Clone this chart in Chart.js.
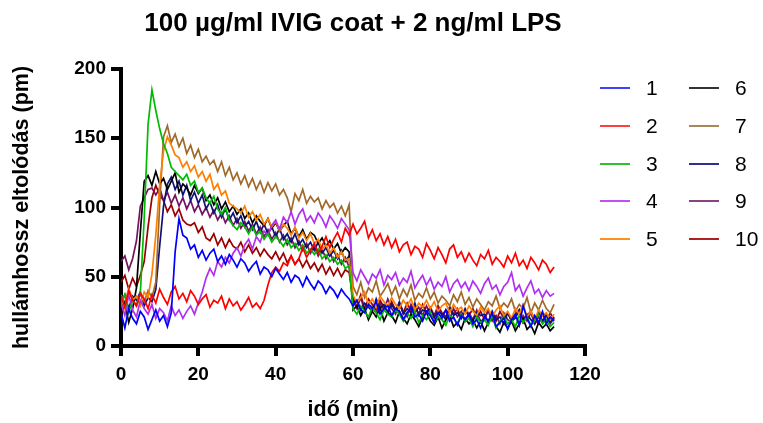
<!DOCTYPE html>
<html>
<head>
<meta charset="utf-8">
<script src="https://cdn.jsdelivr.net/npm/chart.js@4.4.0/dist/chart.umd.min.js"></script>
<style>
  html, body { margin: 0; padding: 0; background: #fff; }
  #chart { display: block; }
</style>
</head>
<body>
<canvas id="chart" width="763" height="423"></canvas>
<script>
// time axis (min), one reading per minute
const times = [
  0, 1, 2, 3, 4, 5, 6, 7, 8, 9, 10, 11, 12, 13, 14, 15, 16, 17, 18, 19,
  20, 21, 22, 23, 24, 25, 26, 27, 28, 29, 30, 31, 32, 33, 34, 35, 36, 37, 38, 39,
  40, 41, 42, 43, 44, 45, 46, 47, 48, 49, 50, 51, 52, 53, 54, 55, 56, 57, 58, 59,
  60, 61, 62, 63, 64, 65, 66, 67, 68, 69, 70, 71, 72, 73, 74, 75, 76, 77, 78, 79,
  80, 81, 82, 83, 84, 85, 86, 87, 88, 89, 90, 91, 92, 93, 94, 95, 96, 97, 98, 99,
  100, 101, 102, 103, 104, 105, 106, 107, 108, 109, 110, 111, 112
];

const seriesLabels = ['1', '2', '3', '4', '5', '6', '7', '8', '9', '10'];
const lineColors = ['#0000ff', '#ff0000', '#00bb00', '#b030f0', '#ff8000',
                    '#000000', '#a0692a', '#10107a', '#74145f', '#9a0000'];
const legendColors = ['#4040ff', '#ff4040', '#30c030', '#c050f0', '#ff9020',
                      '#333333', '#a8885a', '#303090', '#884480', '#b02020'];

const yTicks = [0, 50, 100, 150, 200];
const xTicks = [0, 20, 40, 60, 80, 100, 120];

// wavelength shift (pm)
const s1 = [
  24, 13, 27, 20, 16, 25, 21, 12, 19, 26,
  18, 22, 14, 24, 68, 92, 80, 78, 70, 73,
  64, 69, 62, 67, 70, 61, 65, 59, 66, 62,
  57, 63, 60, 54, 58, 61, 52, 57, 55, 50,
  56, 52, 48, 53, 46, 51, 49, 43, 50, 45,
  41, 47, 44, 38, 43, 40, 35, 41, 37, 34,
  29, 33, 26, 24, 30, 27, 32, 23, 27, 29,
  22, 27, 25, 19, 24, 28, 21, 23, 18, 25,
  22, 17, 24, 20, 26, 18, 21, 15, 22, 19,
  23, 16, 19, 13, 21, 18, 24, 14, 17, 20,
  12, 19, 23, 15, 29, 20, 14, 22, 17, 25,
  16, 21, 18
];
const s2 = [
  36, 28, 40, 33, 29, 38, 34, 27, 37, 31,
  41, 35, 30, 39, 43, 34, 38, 32, 40, 36,
  30, 34, 37, 28, 33, 31, 36, 27, 34, 29,
  32, 26, 30, 35, 28, 31, 27, 33, 44, 53,
  57, 54, 60, 58, 65, 59, 63, 71, 64, 69,
  74, 67, 72, 79, 71, 77, 82, 75, 85, 80,
  88, 81, 85, 90, 78, 84, 76, 81, 73, 79,
  71, 77, 68, 73, 75, 66, 72, 70, 64, 74,
  69, 63, 71, 66, 60, 70, 73, 64, 68, 61,
  67, 62, 58, 66, 63, 69, 59, 64, 61, 57,
  65, 60, 67, 58, 62, 56, 64, 60, 55, 62,
  59, 53, 57
];
const s3 = [
  31, 37, 24, 33, 29, 38, 92, 160, 185, 170,
  157, 146, 139, 129, 126, 123, 120, 124, 116, 119,
  111, 114, 107, 103, 108, 99, 95, 100, 91, 87,
  84, 89, 86, 81, 86, 80, 83, 77, 81, 75,
  79, 76, 72, 77, 71, 74, 69, 73, 67, 70,
  66, 70, 63, 66, 61, 64, 59, 62, 56, 58,
  27, 23, 29, 25, 21, 28, 24, 19, 26, 23,
  21, 26, 23, 18, 24, 20, 25, 17, 22, 19,
  24, 17, 21, 19, 15, 22, 20, 16, 23, 18,
  20, 14, 21, 17, 19, 15, 22, 13, 18, 21,
  16, 19, 14, 22, 17, 21, 15, 18, 23, 16,
  19, 14, 17
];
const s4 = [
  31, 22, 37, 26, 21, 33, 27, 23, 30, 20,
  27, 24, 18, 29, 22, 26, 20, 25, 29, 23,
  31, 39, 49, 56, 51, 61, 57, 64, 60, 67,
  71, 65, 73, 77, 70, 79, 75, 83, 80, 87,
  91, 84, 93, 89, 97, 88, 95, 99, 90, 94,
  89, 96, 92, 86, 94, 90, 85, 92, 88, 84,
  53, 47, 55, 50, 45, 52, 49, 55, 44, 51,
  48, 53, 44, 49, 46, 54, 42, 47, 51, 44,
  49, 41, 46, 43, 50, 39, 45, 48, 42, 46,
  40, 47, 43, 38, 45, 49, 41, 44, 37, 43,
  46, 53, 40, 44, 36, 42, 47, 38, 41, 35,
  40, 36, 38
];
const s5 = [
  34, 27, 41, 33, 36, 29, 39, 35, 52, 80,
  116, 141, 151, 145, 138, 136, 129, 133, 126, 130,
  122, 126, 119, 124, 113, 117, 109, 112, 103, 101,
  99, 96, 101, 93, 97, 91, 95, 88, 92, 86,
  90, 83, 88, 85, 80, 86, 78, 82, 76, 81,
  74, 77, 70, 73, 67, 71, 64, 68, 62, 63,
  37, 31, 35, 39, 30, 34, 28, 36, 32, 29,
  35, 30, 27, 33, 29, 34, 26, 31, 28, 33,
  27, 32, 25, 29, 31, 24, 30, 26, 28, 23,
  29, 25, 22, 28, 24, 27, 21, 26, 29, 22,
  25, 20, 27, 23, 30, 21, 25, 19, 26, 22,
  24, 19, 23
];
const s6 = [
  23, 31, 17, 27, 42, 82, 119, 123, 116, 126,
  117, 121, 113, 119, 125, 111, 117, 114, 109, 116,
  110, 114, 105, 109, 102, 107, 99, 104, 97, 101,
  95, 99, 92, 96, 89, 94, 90, 87, 92, 85,
  89, 83, 87, 90, 81, 85, 79, 84, 77, 82,
  80, 74, 78, 72, 76, 70, 74, 67, 71, 68,
  26, 29, 22, 27, 19, 25, 21, 28, 18, 24,
  22, 17, 25, 20, 16, 23, 19, 14, 21, 24,
  18, 15, 21, 13, 19, 22, 14, 17, 12, 20,
  16, 19, 13, 18, 11, 17, 21, 14, 10, 17,
  13, 18, 11, 16, 20, 12, 15, 9, 17, 13,
  16, 11, 14
];
const s7 = [
  37, 31, 41, 34, 29, 38, 32, 40, 35, 46,
  102, 151, 159, 147, 153, 144, 150, 139, 145, 136,
  142, 133, 137, 131, 134, 126, 133, 123, 129, 120,
  125, 117, 123, 115, 121, 113, 119, 111, 118, 112,
  117, 109, 113, 107, 97, 110, 105, 113, 103, 108,
  104, 107, 99, 105, 100, 103, 96, 101, 94, 102,
  43, 37, 46, 35, 42, 39, 47, 36, 40, 45,
  37, 43, 34, 41, 36, 44, 33, 38, 35, 42,
  34, 39, 31, 36, 33, 29, 37, 32, 39, 30,
  35, 28, 34, 30, 26, 32, 29, 36, 27, 31,
  28, 34, 25, 30, 27, 35, 24, 31, 26, 33,
  27, 24, 30
];
const s8 = [
  31, 37, 27, 36, 33, 39, 29, 35, 32, 41,
  72, 101, 117, 122, 113, 119, 109, 116, 105, 111,
  103, 109, 99, 104, 96, 102, 93, 99, 91, 96,
  89, 94, 86, 90, 84, 90, 82, 88, 81, 86,
  79, 85, 77, 81, 75, 81, 73, 77, 71, 75,
  69, 75, 67, 71, 65, 69, 63, 69, 61, 65,
  31, 33, 26, 31, 28, 25, 34, 27, 30, 24,
  30, 25, 32, 23, 27, 24, 31, 22, 26, 25,
  27, 21, 25, 23, 19, 28, 22, 24, 20, 27,
  21, 18, 24, 22, 23, 17, 25, 19, 21, 16,
  24, 18, 20, 26, 17, 23, 19, 16, 25, 18,
  22, 17, 21
];
const s9 = [
  61, 65, 55, 63, 76, 101, 107, 113, 114, 109,
  114, 105, 111, 103, 109, 101, 107, 99, 105, 97,
  102, 95, 100, 93, 98, 91, 96, 89, 94, 87,
  92, 85, 90, 83, 88, 81, 86, 79, 84, 77,
  82, 75, 80, 73, 78, 71, 76, 69, 74, 67,
  72, 65, 70, 63, 68, 61, 66, 59, 64, 57,
  33, 27, 35, 25, 30, 28, 24, 31, 26, 34,
  27, 23, 31, 25, 21, 30, 24, 28, 22, 29,
  23, 20, 28, 22, 26, 19, 27, 21, 25, 18,
  24, 19, 26, 17, 21, 25, 18, 22, 16, 24,
  19, 17, 23, 15, 22, 18, 24, 16, 21, 17,
  23, 16, 20
];
const s10 = [
  46, 51, 41, 49, 43, 51, 61, 86, 107, 116,
  109, 105, 97, 102, 94, 99, 91, 88, 87, 89,
  82, 86, 78, 76, 81, 73, 78, 71, 77, 72,
  70, 75, 68, 73, 67, 71, 65, 70, 66, 63,
  68, 62, 67, 60, 65, 59, 63, 57, 62, 56,
  60, 54, 59, 52, 57, 51, 56, 50, 55, 53,
  35, 29, 37, 27, 34, 30, 26, 33, 28, 25,
  32, 26, 30, 24, 31, 25, 29, 23, 30, 24,
  28, 22, 29, 24, 21, 28, 23, 27, 20, 26,
  22, 27, 20, 25, 19, 26, 21, 18, 25, 20,
  24, 18, 23, 26, 17, 22, 25, 19, 16, 23,
  18, 24, 19
];

const allSeries = [s1, s2, s3, s4, s5, s6, s7, s8, s9, s10];

const datasets = allSeries.map((vals, k) => ({
  label: seriesLabels[k],
  data: vals.map((v, i) => ({ x: times[i], y: v })),
  borderColor: lineColors[k],
  borderWidth: 1.7,
  pointRadius: 0,
  tension: 0,
  fill: false
}));

const fontFamily = '"Liberation Sans", Arial, sans-serif';

// title centred over the plot + two-column legend on the right
const decorPlugin = {
  id: 'decor',
  afterDraw(chart) {
    const ctx = chart.ctx;
    const area = chart.chartArea;
    ctx.save();
    ctx.fillStyle = '#000';
    ctx.font = 'bold 26px ' + fontFamily;
    ctx.textAlign = 'center';
    ctx.textBaseline = 'middle';
    ctx.fillText('100 µg/ml IVIG coat + 2 ng/ml LPS', (area.left + area.right) / 2, 24);

    const rows = [88, 126, 164, 201, 239];
    ctx.font = '21px ' + fontFamily;
    ctx.textAlign = 'left';
    seriesLabels.forEach((lab, k) => {
      const col = k < 5 ? 0 : 1;
      const y = rows[k % 5];
      const x0 = col === 0 ? 600 : 689;
      ctx.strokeStyle = legendColors[k];
      ctx.lineWidth = 2;
      ctx.beginPath();
      ctx.moveTo(x0, y);
      ctx.lineTo(x0 + 30, y);
      ctx.stroke();
      ctx.fillStyle = '#000';
      ctx.fillText(lab, x0 + 46, y + 1);
    });
    ctx.restore();
  }
};

new Chart(document.getElementById('chart').getContext('2d'), {
  type: 'line',
  data: { datasets: datasets },
  options: {
    responsive: false,
    animation: false,
    devicePixelRatio: 1,
    layout: { padding: { top: 69, right: 178, bottom: 0, left: 0 } },
    plugins: {
      legend: { display: false },
      title: { display: false },
      tooltip: { enabled: false }
    },
    scales: {
      x: {
        type: 'linear',
        min: 0,
        max: 120,
        afterFit(scale) { scale.height = 77; },
        afterBuildTicks(scale) { scale.ticks = xTicks.map(v => ({ value: v })); },
        border: { display: true, color: '#000', width: 4 },
        grid: { drawOnChartArea: false, drawTicks: true, tickLength: 10, color: '#000', lineWidth: 4 },
        ticks: {
          color: '#000',
          padding: 7,
          maxRotation: 0,
          font: { family: fontFamily, size: 19, weight: 'bold' }
        },
        title: {
          display: true,
          text: 'idő (min)',
          color: '#000',
          padding: { top: 0, bottom: 0 },
          font: { family: fontFamily, size: 21.5, weight: 'bold' }
        }
      },
      y: {
        min: 0,
        max: 200,
        afterFit(scale) { scale.width = 121; },
        afterBuildTicks(scale) { scale.ticks = yTicks.map(v => ({ value: v })); },
        border: { display: true, color: '#000', width: 4 },
        grid: { drawOnChartArea: false, drawTicks: true, tickLength: 10, color: '#000', lineWidth: 4 },
        ticks: {
          color: '#000',
          padding: 5,
          font: { family: fontFamily, size: 19, weight: 'bold' }
        },
        title: {
          display: true,
          text: 'hullámhossz eltolódás (pm)',
          color: '#000',
          padding: { top: 9, bottom: 0 },
          font: { family: fontFamily, size: 21.5, weight: 'bold' }
        }
      }
    }
  },
  plugins: [decorPlugin]
});
</script>
</body>
</html>
